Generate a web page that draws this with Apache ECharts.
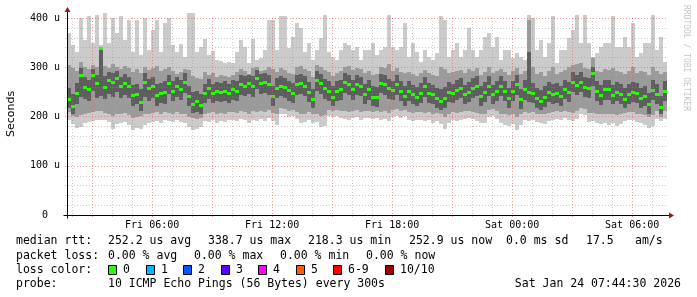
<!DOCTYPE html>
<html><head><meta charset="utf-8">
<script src="https://cdn.jsdelivr.net/npm/echarts@6/dist/echarts.min.js"></script>
<style>html,body{margin:0;padding:0;background:#fff}#c{width:697px;height:297px}</style>
</head><body><div id="c"></div>
<script>
// time axis in hours since Fri 00:00; graph covers the last 30 hours before Sat 07:44:30
const startHour = 1 + 44.5 / 60;
const spanHours = 30;
const colHours = 0.2;           // one smoke column = 12 minutes
const xTickValues = [6, 12, 18, 24, 30];
const xTickLabels = ['Fri 06:00', 'Fri 12:00', 'Fri 18:00', 'Sat 00:00', 'Sat 06:00'];
const yTickValues = [0, 100, 200, 300, 400];
const yTickLabels = ['0  ', '100 u', '200 u', '300 u', '400 u'];

// median RTT per column (microseconds)
const median = [
235,222,248,285,260,255,285,267,338,260,274,270,279,262,268,262,244,245,230,270,258,262,243,248,250,
268,252,262,255,270,242,226,232,223,248,258,247,252,250,252,248,255,252,265,262,267,262,278,268,270,
265,242,258,262,259,253,247,265,268,262,250,235,275,268,257,252,240,252,255,270,265,255,265,262,245,
255,240,240,268,265,257,254,265,252,242,252,245,240,248,261,248,245,237,232,238,250,247,254,258,245,
250,258,262,242,250,262,245,252,262,252,238,252,265,235,255,250,247,237,232,240,250,245,248,242,255,
250,270,264,270,260,258,288,252,243,255,255,244,250,245,236,245,250,248,237,242,225,254,245,219,252];
// outer smoke (lightest): max / min ping
const smokeHi1 = [
370,345,330,400,355,403,350,405,345,412,350,400,370,403,355,395,330,395,325,400,335,375,395,330,390,
400,345,330,348,320,410,410,330,340,358,325,333,315,312,308,310,308,330,355,340,308,358,315,318,335,
396,396,335,403,403,338,362,389,380,330,349,315,335,360,406,330,321,315,335,349,345,335,342,315,335,
335,349,325,335,340,406,340,335,342,389,321,349,330,310,335,320,315,328,403,395,321,335,349,321,335,
380,335,321,335,362,369,342,362,315,335,335,318,328,321,315,406,400,335,355,321,349,403,308,335,335,
360,376,406,349,406,349,321,328,342,349,349,403,342,342,362,342,389,321,328,349,349,406,335,362,310];
const smokeLo1 = [
193,185,176,178,186,188,190,193,193,192,188,175,185,186,188,182,173,176,174,182,186,188,190,186,193,
190,188,192,188,186,179,172,175,178,190,188,192,186,190,188,192,193,190,194,192,186,193,190,194,191,
196,190,183,206,204,198,200,195,186,188,192,186,188,179,181,200,198,200,196,195,193,196,198,193,196,
196,195,197,193,195,190,198,200,196,200,193,190,192,193,190,193,186,190,185,175,186,193,190,193,195,
196,195,190,186,186,198,200,195,186,183,180,185,173,182,193,190,193,188,186,184,190,193,195,193,196,
193,190,195,205,203,188,190,186,185,186,183,186,180,185,190,193,192,188,186,183,176,180,195,190,195];
// middle smoke
const smokeHi2 = [
305,298,292,310,300,296,305,300,342,302,298,306,300,296,302,298,290,296,288,300,294,298,302,292,296,
300,292,286,290,296,295,282,278,276,290,285,288,280,284,282,280,284,290,296,292,286,298,300,292,294,
300,296,290,298,295,288,286,300,302,296,292,280,305,300,295,290,282,288,292,300,302,294,298,296,288,
292,285,286,300,298,306,292,298,290,288,290,286,282,288,295,288,285,282,300,296,288,290,292,294,288,
296,292,298,285,290,300,288,292,296,290,284,292,298,286,292,395,300,286,290,282,292,300,286,290,294,
300,305,306,308,298,296,318,292,290,296,294,298,292,290,286,292,300,288,292,290,284,300,292,286,290];
const smokeLo2 = [
210,200,198,202,206,208,210,212,212,208,206,200,204,206,208,203,196,198,200,204,206,208,210,206,210,
208,206,210,206,204,198,196,194,196,206,208,210,206,208,206,210,210,208,212,210,206,212,210,212,210,
214,208,204,218,216,212,214,210,206,206,210,204,206,200,202,214,212,214,212,212,210,212,214,210,212,
212,210,212,210,212,208,214,216,212,214,210,208,210,210,208,210,206,208,204,198,204,210,208,210,212,
212,210,208,206,206,214,216,212,206,204,202,206,198,204,210,208,210,206,204,204,208,210,212,210,212,
210,208,212,218,216,208,208,206,204,206,204,206,202,204,208,210,210,206,204,202,198,202,212,198,212];
// inner (dark) smoke
const smokeHi3 = [
258,245,268,298,280,275,296,285,340,282,290,288,292,280,286,280,264,266,255,288,276,280,265,268,272,
285,272,280,275,288,262,250,252,245,266,276,266,270,268,272,266,274,272,284,282,285,282,294,286,288,
284,262,278,282,278,272,268,284,286,282,270,256,292,286,276,272,262,272,274,288,284,274,284,280,266,
274,262,260,286,284,276,272,284,272,262,272,264,260,268,280,268,264,258,255,260,270,266,274,278,264,
270,278,282,262,270,282,264,272,282,272,258,272,284,256,274,330,268,258,254,262,270,266,268,262,274,
270,290,284,290,280,278,300,272,264,274,274,264,270,266,258,266,270,268,258,262,248,274,266,242,272];
const smokeLo3 = [
218,206,226,240,236,232,252,238,242,236,246,240,250,238,244,238,222,226,212,240,232,238,222,228,226,
246,232,240,234,248,222,208,210,205,228,236,228,232,230,232,228,234,232,244,242,246,240,256,246,248,
244,222,238,242,238,232,228,244,246,242,230,218,252,246,236,232,222,232,234,248,244,234,244,242,226,
234,222,220,248,244,236,234,244,232,222,232,226,222,228,240,228,226,218,214,218,230,228,234,238,226,
230,238,242,222,230,242,226,232,242,232,218,232,244,216,234,230,228,218,214,220,230,226,228,222,236,
230,250,244,250,240,238,262,232,224,234,234,226,232,226,218,226,230,228,218,222,206,234,226,204,232];

const lossColors = ['#26ff00', '#00b8ff', '#0059ff', '#5e00ff', '#ff00ff', '#ff5e00', '#ff0000', '#a10000'];
const lossLabels = ['0', '1', '2', '3', '4', '5', '6-9', '10/10'];

const legendLine1 = [[16,'median rtt:'],[108,'252.2 us avg'],[208,'338.7 us max'],[308,'218.3 us min'],[409,'252.9 us now'],[506,'0.0 ms sd'],[586,'17.5'],[635,'am/s']];
const legendLine2 = [[16,'packet loss:'],[108,'0.00 % avg'],[194,'0.00 % max'],[280,'0.00 % min'],[366,'0.00 % now']];
const lossBoxX = [108,146,183,221,258,296,333,385];
const probeText = '10 ICMP Echo Pings (56 Bytes) every 300s';
const dateText = 'Sat Jan 24 07:44:30 2026';

const endHour = startHour + spanHours;
const MONO = '"DejaVu Sans Mono", monospace';

const cols = median.map((_, i) => [i]);
const gridLines = [];
for (let v = 20; v <= 400; v += 20) gridLines.push([0, v]);
for (let h = 2; h <= 31; h++) gridLines.push([1, h]);

function smokeItem(params, api) {
  const i = api.value(0);
  const t0 = startHour + i * colHours, t1 = t0 + colHours;
  const rect = (lo, hi, color) => {
    const a = api.coord([t0, hi]), b = api.coord([t1, lo]);
    const x0 = Math.round(a[0]), x1 = Math.round(b[0]);
    const y0 = Math.round(a[1]), y1 = Math.round(b[1]);
    return { type: 'rect', shape: { x: x0, y: y0, width: x1 - x0, height: y1 - y0 }, style: { fill: color } };
  };
  const m = api.coord([t0, median[i]]);
  const mb = api.coord([t1, median[i]]);
  const gx0 = Math.round(m[0]), gx1 = Math.round(mb[0]);
  return {
    type: 'group',
    children: [
      rect(smokeLo1[i], smokeHi1[i], '#cbcbcb'),
      rect(smokeLo2[i], smokeHi2[i], '#9b9b9b'),
      rect(smokeLo3[i], smokeHi3[i], '#5e5e5e'),
      { type: 'rect', shape: { x: gx0, y: Math.round(m[1]) - 1, width: gx1 - gx0, height: 3 }, style: { fill: lossColors[0] } }
    ]
  };
}

function gridItem(params, api) {
  const kind = api.value(0), v = api.value(1);
  let x1, y1, x2, y2, major;
  if (kind === 0) {
    const a = api.coord([startHour, v]), b = api.coord([endHour, v]);
    y1 = y2 = Math.round(a[1]) + 0.5; x1 = a[0] - 2; x2 = b[0];
    major = v % 100 === 0;
  } else {
    const a = api.coord([v, 0]), b = api.coord([v, 410]);
    x1 = x2 = Math.round(a[0]) + 0.5; y1 = a[1] + 2; y2 = b[1] + 4;
    major = v % 3 === 0;
  }
  return {
    type: 'line', shape: { x1, y1, x2, y2 },
    style: { stroke: major ? 'rgba(235,90,90,0.6)' : 'rgba(140,140,140,0.45)', lineWidth: 1, lineDash: [1, 2] }
  };
}

const chart = echarts.init(document.getElementById('c'), null, { renderer: 'canvas' });
chart.setOption({
  animation: false,
  backgroundColor: '#ffffff',
  grid: { left: 67, right: 30, top: 13, bottom: 82 },
  xAxis: {
    type: 'value', min: startHour, max: endHour,
    axisLine: { show: false }, axisTick: { show: false }, splitLine: { show: false },
    axisLabel: {
      customValues: xTickValues,
      formatter: v => xTickLabels[xTickValues.indexOf(v)],
      color: '#000', fontFamily: MONO, fontSize: 10, margin: 5
    }
  },
  yAxis: {
    type: 'value', min: 0, max: 410,
    axisLine: { show: false }, axisTick: { show: false }, splitLine: { show: false },
    axisLabel: {
      customValues: yTickValues,
      formatter: v => yTickLabels[yTickValues.indexOf(v)],
      color: '#000', fontFamily: MONO, fontSize: 10, margin: 7
    }
  },
  series: [
    { type: 'custom', name: 'smoke', renderItem: smokeItem, data: cols, clip: true, z: 2, silent: true },
    { type: 'custom', name: 'grid', renderItem: gridItem, data: gridLines, clip: false, z: 3, silent: true }
  ]
});

const o = chart.convertToPixel({ gridIndex: 0 }, [startHour, 0]);
const e = chart.convertToPixel({ gridIndex: 0 }, [endHour, 410]);
const ax = Math.round(o[0]) + 0.5, ay = Math.round(o[1]) + 0.5;
const arrowColor = '#a01010';
const graphics = [
  { type: 'line', shape: { x1: ax - 4, y1: ay, x2: e[0] + 4, y2: ay }, style: { stroke: '#000', lineWidth: 1 }, z: 10 },
  { type: 'line', shape: { x1: ax, y1: ay + 3, x2: ax, y2: e[1] - 2 }, style: { stroke: '#000', lineWidth: 1 }, z: 10 },
  { type: 'polygon', shape: { points: [[ax - 3, e[1] - 1], [ax + 3, e[1] - 1], [ax, e[1] - 6]] }, style: { fill: arrowColor }, z: 10 },
  { type: 'polygon', shape: { points: [[e[0] + 2, ay - 3], [e[0] + 2, ay + 3], [e[0] + 7, ay]] }, style: { fill: arrowColor }, z: 10 },
  { type: 'text', x: 11, y: (o[1] + e[1]) / 2, rotation: Math.PI / 2,
    style: { text: 'Seconds', font: '11px "DejaVu Sans", sans-serif', fill: '#000', align: 'center', verticalAlign: 'middle' } },
  { type: 'text', x: 686, y: 5, rotation: -Math.PI / 2,
    style: { text: 'RRDTOOL / TOBI OETIKER', font: '8px ' + MONO, fill: '#c4c4c4', align: 'left', verticalAlign: 'middle' } }
];
const legendFont = '11.5px ' + MONO;
const addText = (x, y, text, align) => graphics.push({ type: 'text', x, y,
  style: { text, font: legendFont, fill: '#000', align: align || 'left', verticalAlign: 'middle' } });
legendLine1.forEach(([x, t]) => addText(x, 241, t));
legendLine2.forEach(([x, t]) => addText(x, 256, t));
addText(16, 270, 'loss color:');
lossBoxX.forEach((x, k) => {
  graphics.push({ type: 'rect', shape: { x: x + 0.5, y: 265.5, width: 8, height: 9 },
    style: { fill: lossColors[k], stroke: '#000', lineWidth: 1 } });
  addText(x + 15, 270, lossLabels[k]);
});
addText(16, 284, 'probe:');
addText(108, 284, probeText);
addText(681, 284, dateText, 'right');
chart.setOption({ graphic: graphics });
</script>
</body></html>
